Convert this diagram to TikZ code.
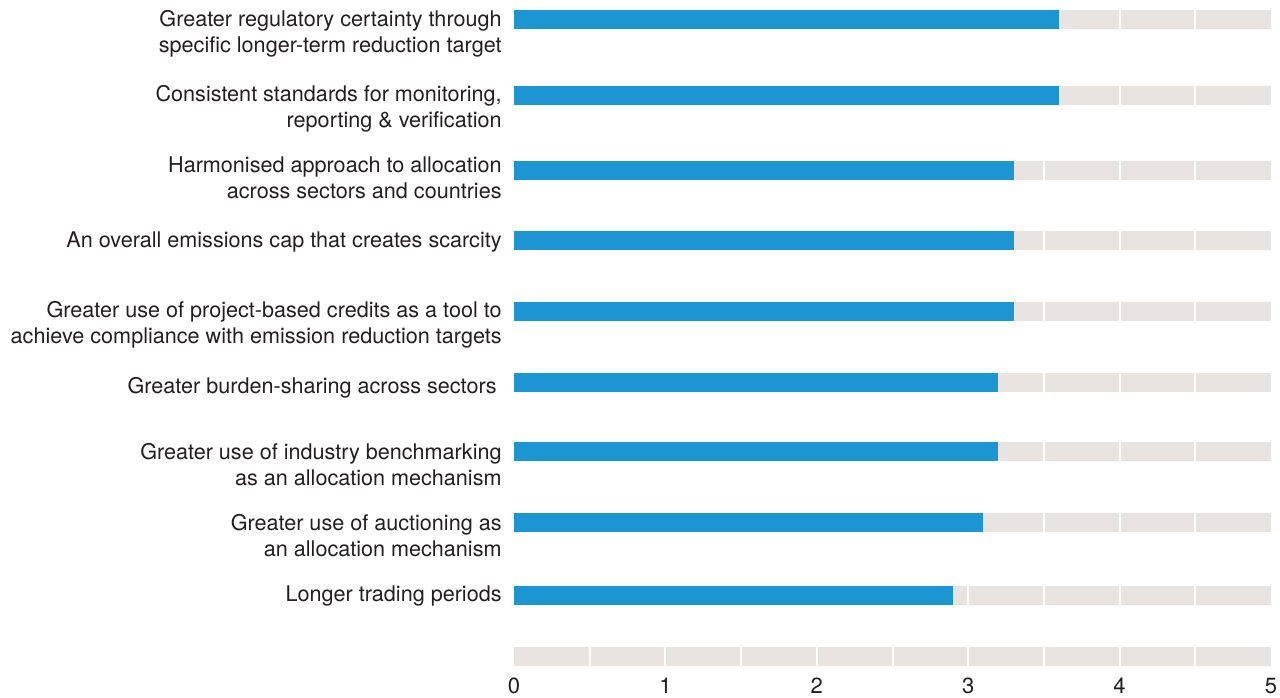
\documentclass[tikz,border=0pt]{standalone}
\usepackage{fontspec}
\setmainfont{TeX Gyre Heros}
\usepackage{tikz}

\definecolor{barblue}{RGB}{29,149,211}
\definecolor{bargray}{RGB}{232,228,225}
\definecolor{labeltext}{RGB}{35,31,32}

\tikzset{
    rowlabel/.style={anchor=base east, align=right, inner sep=0pt, text=labeltext,
        font=\fontsize{10.8}{13}\selectfont},
    ticklabel/.style={anchor=base, inner sep=0pt, text=labeltext,
        font=\fontsize{11}{13}\selectfont}
}

\begin{document}
\begin{tikzpicture}[x=0.5pt, y=-0.5pt]
    \useasboundingbox (0,0) rectangle (1280,697);

    % Background tracks, split every half unit
    \foreach \t in {10, 86, 161, 231, 302, 373, 442, 513, 586, 647} {
        \foreach \k in {0,...,9} {
            \fill[bargray] ({514+\k*75.7+(\k>0)},\t) rectangle ({514+(\k+1)*75.7-(\k<9)},\t+19);
        }
    }

    % Scores
    \foreach \t/\v in {10/3.6, 86/3.6, 161/3.3, 231/3.3, 302/3.3, 373/3.2, 442/3.2, 513/3.1, 586/2.9} {
        \fill[barblue] (514,\t) rectangle ({514+\v*151.4},\t+19);
    }

    % Row labels (anchored at the baseline of the last line)
    \node[rowlabel] (certainty) at (502,52) {Greater regulatory certainty through\\specific longer-term reduction target};
    \node[rowlabel] (standards) at (502,127) {Consistent standards for monitoring,\\reporting \& verification};
    \node[rowlabel] (harmonised) at (502,198) {Harmonised approach to allocation\\across sectors and countries};
    \node[rowlabel] (cap) at (502,247) {An overall emissions cap that creates scarcity};
    \node[rowlabel] (credits) at (502,343) {Greater use of project-based credits as a tool to\\achieve compliance with emission reduction targets};
    \node[rowlabel] (burden) at (497,393) {Greater burden-sharing across sectors};
    \node[rowlabel] (benchmark) at (502,485) {Greater use of industry benchmarking\\as an allocation mechanism};
    \node[rowlabel] (auction) at (502,556) {Greater use of auctioning as\\an allocation mechanism};
    \node[rowlabel] (periods) at (502,601) {Longer trading periods};

    % Scale
    \foreach \x in {0,...,5} {
        \node[ticklabel] (tick\x) at ({514+\x*151.4},693) {\x};
    }
\end{tikzpicture}
\end{document}
